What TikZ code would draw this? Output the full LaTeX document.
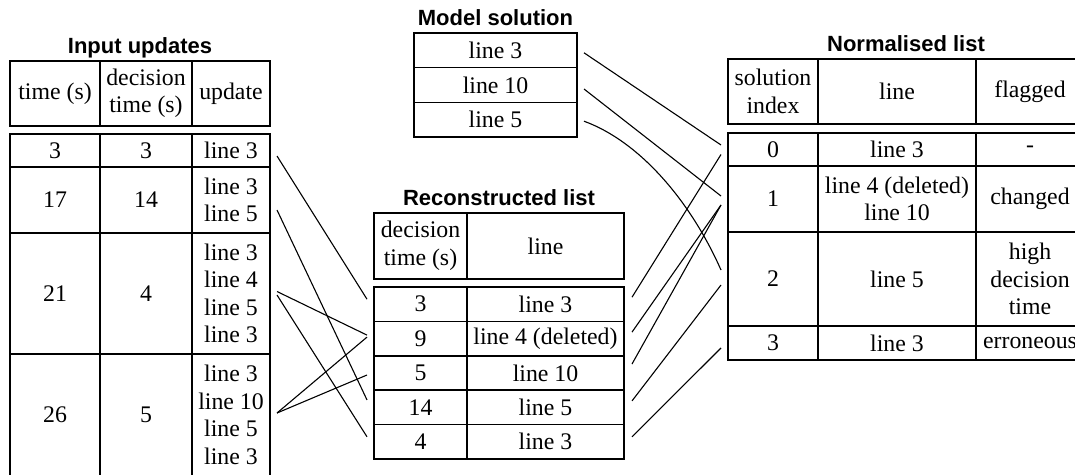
\documentclass[tikz,border=0pt]{standalone}
\usepackage{fontspec}
\setmainfont{Liberation Serif}
\newfontfamily\titlefont{Liberation Sans}
\usetikzlibrary{calc}
\tikzset{
  cell/.style={draw, line width=1.6pt, inner sep=0pt, outer sep=0pt, align=center,
    font={\fontsize{23.8}{27.5}\selectfont}},
  ttl/.style={anchor=base, inner sep=0pt, font={\titlefont\bfseries\fontsize{22}{26}\selectfont}},
  conn/.style={line width=1.1pt}
}
\begin{document}
\begin{tikzpicture}[x=1pt,y=-1pt]
\useasboundingbox (0,0) rectangle (1075,474);
\fill[white] (0,0) rectangle (1075,474);
\clip (0,0) rectangle (1075,474);

% ---------- Input updates ----------
\node[ttl] (tin) at (140,53) {Input updates};
\node[cell, minimum width=90, minimum height=65] (ih1) at (55,93.5) {time (s)};
\node[cell, minimum width=92, minimum height=65] (ih2) at (146,93.5) {decision\\time (s)};
\node[cell, minimum width=78, minimum height=65] (ih3) at (231,93.5) {update};

\node[cell, minimum width=90, minimum height=33] (ia1) at (55,150.5) {3};
\node[cell, minimum width=92, minimum height=33] (ib1) at (146,150.5) {3};
\node[cell, minimum width=78, minimum height=33] (iu1) at (231,150.5) {line 3};

\node[cell, minimum width=90, minimum height=66] (ia2) at (55,200) {17};
\node[cell, minimum width=92, minimum height=66] (ib2) at (146,200) {14};
\node[cell, minimum width=78, minimum height=66] (iu2) at (231,200) {line 3\\line 5};

\node[cell, minimum width=90, minimum height=121] (ia3) at (55,293.5) {21};
\node[cell, minimum width=92, minimum height=121] (ib3) at (146,293.5) {4};
\node[cell, minimum width=78, minimum height=121] (iu3) at (231,293.5) {line 3\\line 4\\line 5\\line 3};

\node[cell, minimum width=90, minimum height=122] (ia4) at (55,415) {26};
\node[cell, minimum width=92, minimum height=122] (ib4) at (146,415) {5};
\node[cell, minimum width=78, minimum height=122] (iu4) at (231,415) {line 3\\line 10\\line 5\\line 3};

% ---------- Model solution ----------
\node[ttl] (tms) at (495.5,25) {Model solution};
\node[cell, minimum width=163, minimum height=34.67] (m1) at (495.5,50.3) {line 3};
\node[cell, minimum width=163, minimum height=34.67] (m2) at (495.5,85) {line 10};
\node[cell, minimum width=163, minimum height=34.67] (m3) at (495.5,119.7) {line 5};

% ---------- Reconstructed list ----------
\node[ttl] (trl) at (499,205) {Reconstructed list};
\node[cell, minimum width=93, minimum height=66] (rh1) at (420.5,246) {decision\\time (s)};
\node[cell, minimum width=157, minimum height=66] (rh2) at (545.5,246) {line};

\node[cell, minimum width=93, minimum height=34.4] (ra1) at (420.5,304.2) {3};
\node[cell, minimum width=157, minimum height=34.4] (rl1) at (545.5,304.2) {line 3};
\node[cell, minimum width=93, minimum height=34.4] (ra2) at (420.5,338.6) {9};
\node[cell, minimum width=157, minimum height=34.4] (rl2) at (545.5,338.6) {line 4 (deleted)};
\node[cell, minimum width=93, minimum height=34.4] (ra3) at (420.5,373) {5};
\node[cell, minimum width=157, minimum height=34.4] (rl3) at (545.5,373) {line 10};
\node[cell, minimum width=93, minimum height=34.4] (ra4) at (420.5,407.4) {14};
\node[cell, minimum width=157, minimum height=34.4] (rl4) at (545.5,407.4) {line 5};
\node[cell, minimum width=93, minimum height=34.4] (ra5) at (420.5,441.8) {4};
\node[cell, minimum width=157, minimum height=34.4] (rl5) at (545.5,441.8) {line 3};

% ---------- Normalised list ----------
\node[ttl] (tnl) at (906,51) {Normalised list};
\node[cell, minimum width=90, minimum height=65] (nh1) at (773,91.5) {solution\\index};
\node[cell, minimum width=158, minimum height=65] (nh2) at (897,91.5) {line};
\node[cell, minimum width=108, minimum height=65] (nh3) at (1030,91.5) {flagged};

\node[cell, minimum width=90, minimum height=33] (na0) at (773,149.5) {0};
\node[cell, minimum width=158, minimum height=33] (nl0) at (897,149.5) {line 3};
\node[cell, minimum width=108, minimum height=33] (nf0) at (1030,149.5) {-};

\node[cell, minimum width=90, minimum height=66] (na1) at (773,199) {1};
\node[cell, minimum width=158, minimum height=66] (nl1) at (897,199) {line 4 (deleted)\\line 10};
\node[cell, minimum width=108, minimum height=66] (nf1) at (1030,199) {changed};

\node[cell, minimum width=90, minimum height=94] (na2) at (773,279) {2};
\node[cell, minimum width=158, minimum height=94] (nl2) at (897,279) {line 5};
\node[cell, minimum width=108, minimum height=94] (nf2) at (1030,279) {high\\decision\\time};

\node[cell, minimum width=90, minimum height=34] (na3) at (773,343) {3};
\node[cell, minimum width=158, minimum height=34] (nl3) at (897,343) {line 3};
\node[cell, minimum width=108, minimum height=34] (nf3) at (1030,343) {erroneous};

% ---------- connectors: input -> reconstructed ----------
\draw[conn] ($(iu1.east)+(7,5.5)$) -- ($(ra1.west)+(-7,-5)$);
\draw[conn] ($(iu2.east)+(7,10)$) -- ($(ra4.west)+(-7,-7.5)$);
\draw[conn] ($(iu3.east)+(7,-2)$) -- ($(ra2.west)+(-7,-3.5)$);
\draw[conn] ($(iu3.east)+(7,1.5)$) -- ($(ra5.west)+(-7,-5)$);
\draw[conn] ($(iu4.east)+(7,-2)$) -- ($(ra2.west)+(-7,-1.5)$);
\draw[conn] ($(iu4.east)+(7,-2)$) -- ($(ra3.west)+(-7,2)$);

% ---------- connectors: reconstructed -> normalised ----------
\draw[conn] ($(rl1.east)+(8,-7)$) -- ($(na0.west)+(-7,5)$);
\draw[conn] ($(rl2.east)+(8,-6.5)$) -- ($(na1.west)+(-7,6)$);
\draw[conn] ($(rl3.east)+(8,-9)$) -- ($(na1.west)+(-7,6)$);
\draw[conn] ($(rl4.east)+(8,-6.5)$) -- ($(na2.west)+(-7,6)$);
\draw[conn] ($(rl5.east)+(8,-5)$) -- ($(na3.west)+(-7,5)$);

% ---------- connectors: model -> normalised ----------
\draw[conn] ($(m1.east)+(7,2.5)$) -- ($(na0.west)+(-7,-4.5)$);
\draw[conn] ($(m2.east)+(7,4)$) -- ($(na1.west)+(-7,-3)$);
\draw[conn] ($(m3.east)+(7,1.5)$) .. controls +(55,20) and +(-31,-70) .. ($(na2.west)+(-7,-9)$);
\end{tikzpicture}
\end{document}
